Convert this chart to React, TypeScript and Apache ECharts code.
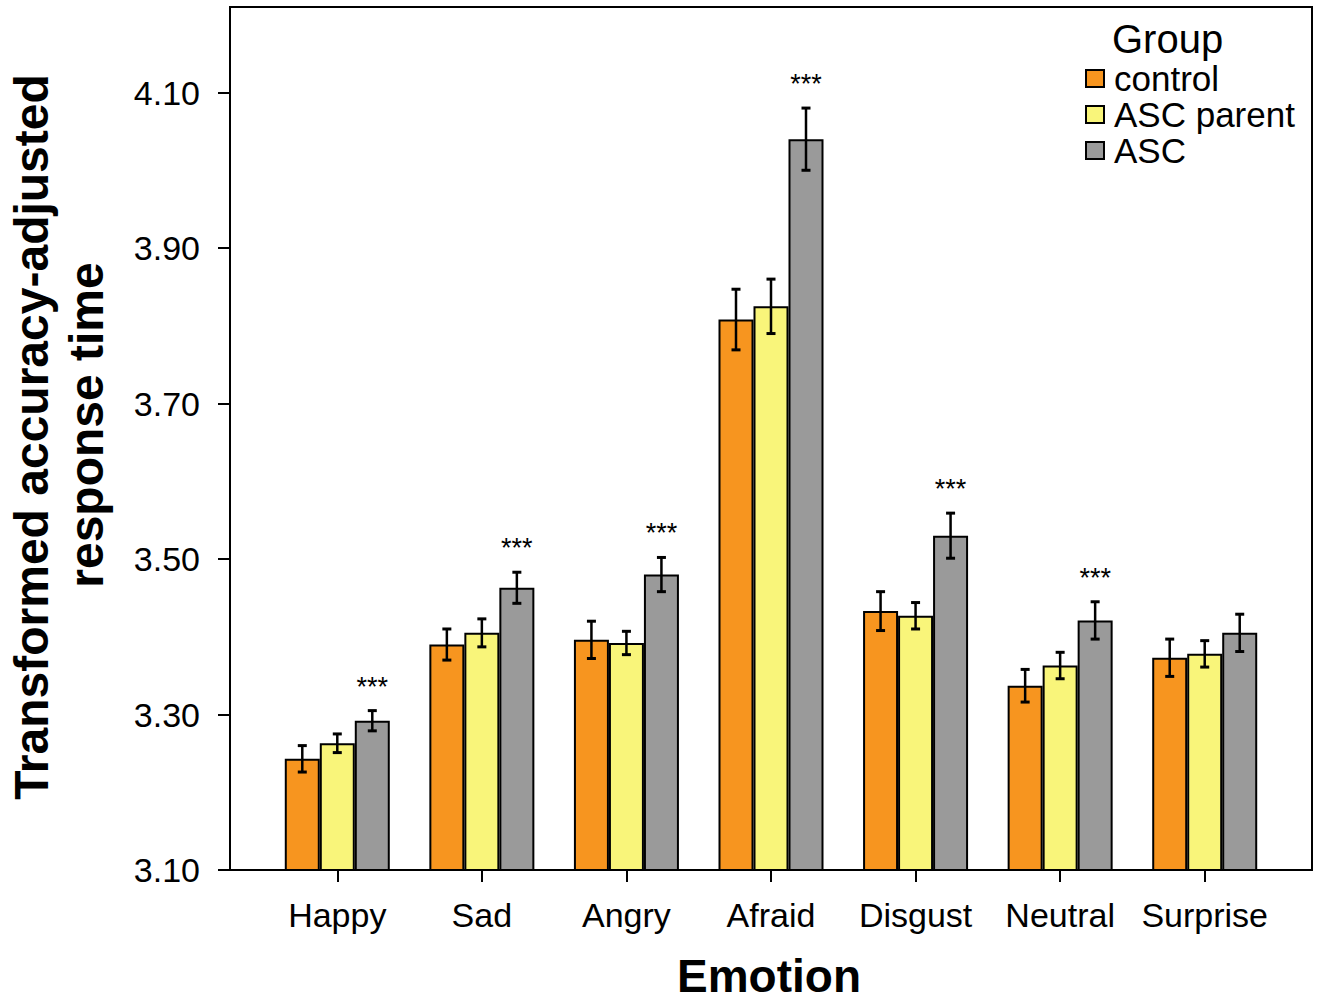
import React, { useEffect, useRef } from 'react';
import * as echarts from 'echarts';

const categories = ['Happy', 'Sad', 'Angry', 'Afraid', 'Disgust', 'Neutral', 'Surprise'];
const groups = ['control', 'ASC parent', 'ASC'];
const controlMeans = [3.243, 3.390, 3.396, 3.808, 3.433, 3.337, 3.373];
const parentMeans = [3.263, 3.405, 3.392, 3.825, 3.427, 3.363, 3.378];
const ascMeans = [3.292, 3.463, 3.480, 4.040, 3.530, 3.421, 3.405];
const controlErr = [0.017, 0.020, 0.024, 0.039, 0.025, 0.021, 0.024];
const parentErr = [0.012, 0.018, 0.015, 0.035, 0.017, 0.017, 0.017];
const ascErr = [0.013, 0.020, 0.022, 0.040, 0.029, 0.024, 0.024];
const controlSig = [0, 0, 0, 0, 0, 0, 0];
const parentSig = [0, 0, 0, 0, 0, 0, 0];
const ascSig = [1, 1, 1, 1, 1, 1, 0];
const yTicks = [3.1, 3.3, 3.5, 3.7, 3.9, 4.1];

const FONT = "'Liberation Sans', Arial, Helvetica, sans-serif";
const COLORS = ['#F7951F', '#F9F57A', '#9A9A9A'];
const BAR_W = 35;

const means = [controlMeans, parentMeans, ascMeans];
const errs = [controlErr, parentErr, ascErr];
const sigs = [controlSig, parentSig, ascSig];

export default function App() {
  const ref = useRef<HTMLDivElement>(null);
  useEffect(() => {
    const chart = echarts.init(ref.current as HTMLDivElement, null, { renderer: 'svg' });

    const barSeries = groups.map((g, i) => ({
      type: 'bar',
      name: g,
      xAxisIndex: 0,
      yAxisIndex: 0,
      data: means[i],
      barWidth: BAR_W,
      barGap: '0%',
      itemStyle: { color: COLORS[i], borderColor: '#000', borderWidth: 2 },
      z: 2,
    }));

    const errSeries = groups.map((g, i) => {
      const off = (i - 1) * BAR_W;
      return {
        type: 'custom',
        name: 'err-' + g,
        xAxisIndex: 0,
        yAxisIndex: 0,
        silent: true,
        z: 5,
        encode: { x: 0, y: 1 },
        data: categories.map((_, k) => [k, means[i][k], errs[i][k], sigs[i][k]]),
        renderItem: (params: any, api: any) => {
          const k = api.value(0);
          const m = api.value(1);
          const e = api.value(2);
          const s = api.value(3);
          const hi = api.coord([k, m + e]);
          const lo = api.coord([k, m - e]);
          const x = hi[0] + off;
          const cap = 4.5;
          const children: any[] = [
            { type: 'line', shape: { x1: x, y1: hi[1], x2: x, y2: lo[1] }, style: { stroke: '#000', lineWidth: 2.5 } },
            { type: 'line', shape: { x1: x - cap, y1: hi[1], x2: x + cap, y2: hi[1] }, style: { stroke: '#000', lineWidth: 3 } },
            { type: 'line', shape: { x1: x - cap, y1: lo[1], x2: x + cap, y2: lo[1] }, style: { stroke: '#000', lineWidth: 3 } },
          ];
          if (s) {
            children.push({
              type: 'text',
              x: x,
              y: hi[1] - 24,
              style: { text: '***', fontSize: 27, fill: '#000', align: 'center', verticalAlign: 'middle', fontFamily: FONT },
            });
          }
          return { type: 'group', children };
        },
      };
    });

    const option: any = {
      animation: false,
      backgroundColor: '#fff',
      grid: [
        { left: 265, right: 44, top: 7, bottom: 132 },
        { left: 230, right: 9, top: 7, bottom: 132, show: true, borderColor: '#000', borderWidth: 2, backgroundColor: 'transparent' },
      ],
      xAxis: [
        {
          type: 'category',
          gridIndex: 0,
          data: categories,
          axisLine: { show: true, lineStyle: { color: '#000', width: 2 } },
          axisTick: { show: true, interval: 0, alignWithLabel: true, length: 12, lineStyle: { color: '#000', width: 2 } },
          axisLabel: { interval: 0, margin: 28, fontSize: 34, color: '#000', fontFamily: FONT },
          splitLine: { show: false },
        },
        { type: 'value', gridIndex: 1, show: false },
      ],
      yAxis: [
        {
          type: 'value',
          gridIndex: 0,
          min: 3.1,
          max: 4.21,
          offset: 35,
          axisLine: { show: true, lineStyle: { color: '#000', width: 2 } },
          axisTick: { show: true, length: 12, customValues: yTicks, lineStyle: { color: '#000', width: 2 } },
          axisLabel: {
            customValues: yTicks,
            formatter: (v: number) => v.toFixed(2),
            margin: 30,
            fontSize: 34,
            color: '#000',
            fontFamily: FONT,
          },
          splitLine: { show: false },
        },
        { type: 'value', gridIndex: 1, show: false },
      ],
      legend: {
        data: groups,
        orient: 'vertical',
        left: 1085,
        top: 61,
        itemWidth: 18,
        itemHeight: 17,
        itemGap: 1,
        padding: 0,
        icon: 'rect',
        selectedMode: false,
        itemStyle: { borderColor: '#000', borderWidth: 2 },
        textStyle: { fontSize: 35, lineHeight: 34, color: '#000', fontFamily: FONT, padding: [0, 0, 0, 5] },
      },
      graphic: [
        { type: 'text', x: 1112, y: 39, style: { text: 'Group', fontSize: 40, fill: '#000', fontFamily: FONT, align: 'left', verticalAlign: 'middle' } },
        { type: 'text', x: 31, y: 437, rotation: Math.PI / 2, style: { text: 'Transformed accuracy-adjusted', fontSize: 48, fontWeight: 'bold', fill: '#000', fontFamily: FONT, align: 'center', verticalAlign: 'middle' } },
        { type: 'text', x: 86, y: 425, rotation: Math.PI / 2, style: { text: 'response time', fontSize: 48, fontWeight: 'bold', fill: '#000', fontFamily: FONT, align: 'center', verticalAlign: 'middle' } },
        { type: 'text', x: 769, y: 976, style: { text: 'Emotion', fontSize: 46, fontWeight: 'bold', fill: '#000', fontFamily: FONT, align: 'center', verticalAlign: 'middle' } },
      ],
      series: [...barSeries, ...errSeries],
    };

    chart.setOption(option);
    return () => chart.dispose();
  }, []);

  return (
    <div
      ref={ref}
      style={{ position: 'absolute', left: 0, top: 0, width: 1321, height: 1002, background: '#fff' }}
    />
  );
}
